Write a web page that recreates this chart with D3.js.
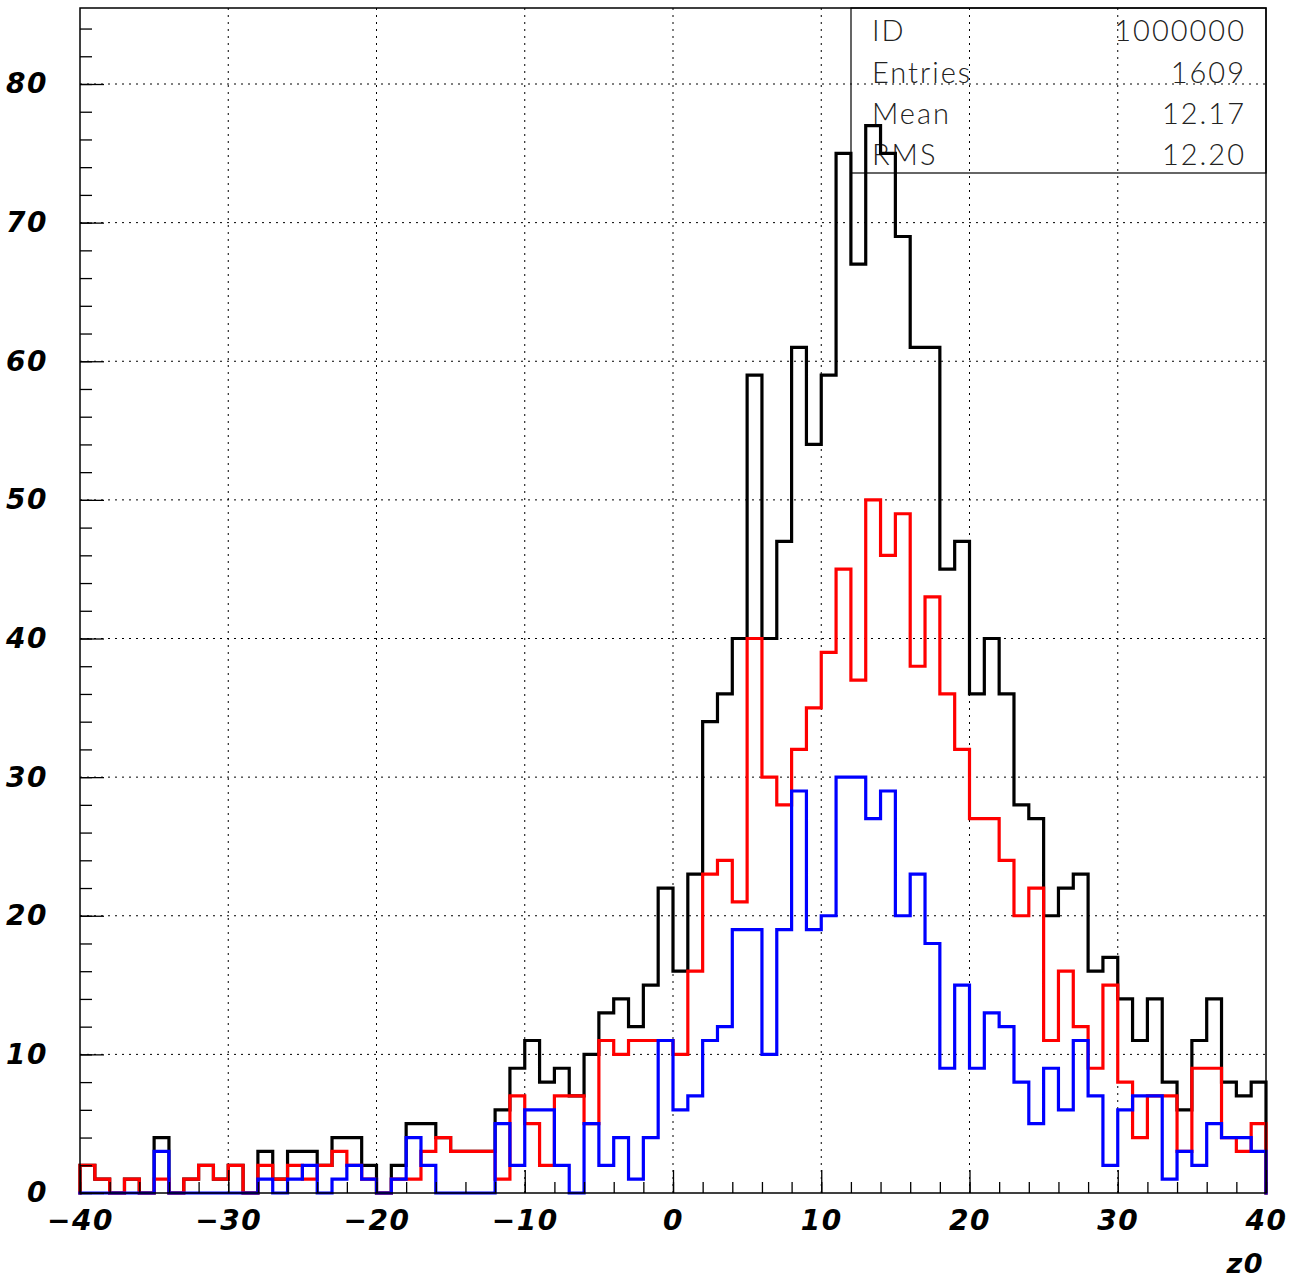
<!DOCTYPE html>
<html>
<head>
<meta charset="utf-8">
<script src="https://cdn.jsdelivr.net/npm/d3@7"></script>
<style>
  html, body { margin: 0; padding: 0; background: #fff; }
  svg { display: block; }
</style>
</head>
<body>
<script>
// ---- Data (80 bins of width 1 from -40 to 40) ----
const binEdges = d3.range(-40, 41, 1);
const totalCounts = [2,1,0,1,0,4,0,1,2,1,2,0,3,1,3,3,2,4,4,2,
  0,2,5,5,4,3,3,3,6,9,11,8,9,7,10,13,14,12,15,22,
  16,23,34,36,40,59,40,47,61,54,59,75,67,77,75,69,61,61,45,47,
  36,40,36,28,27,20,22,23,16,17,14,11,14,8,6,11,14,8,7,8];
const redCounts = [2,1,0,1,0,1,0,1,2,1,2,0,2,1,2,1,2,3,2,1,
  0,1,1,3,4,3,3,3,1,7,5,2,7,7,5,11,10,11,11,11,
  10,16,23,24,21,40,30,28,32,35,39,45,37,50,46,49,38,43,36,32,
  27,27,24,20,22,11,16,12,9,15,8,4,7,7,3,9,9,4,3,5];
const blueCounts = [0,0,0,0,0,3,0,0,0,0,0,0,1,0,1,2,0,1,2,1,
  0,1,4,2,0,0,0,0,5,2,6,6,2,0,5,2,4,1,4,11,
  6,7,11,12,19,19,10,19,29,19,20,30,30,27,29,20,23,18,9,15,
  9,13,12,8,5,9,6,11,7,2,6,7,7,1,3,2,5,4,4,3];
const xMajorTicks = [-40,-30,-20,-10,0,10,20,30,40];
const yMajorTicks = [0,10,20,30,40,50,60,70,80];
const statLabels = ["ID","Entries","Mean","RMS"];
const statValues = ["1000000","1609","12.17","12.20"];
const xTitle = "z0";

// ---- Layout ----
const W = 1302, H = 1281;
const pL = 80, pR = 1266, pT = 8, pB = 1193;
const x = d3.scaleLinear().domain([-40, 40]).range([pL, pR]);
const y = d3.scaleLinear().domain([0, 80]).range([pB, 84]);

const svg = d3.select("body").append("svg").attr("width", W).attr("height", H);

// grid
const grid = svg.append("g").attr("stroke", "#000").attr("stroke-width", 1).attr("stroke-dasharray", "2,5");
grid.selectAll(".gx").data(xMajorTicks.filter(d => d > -40 && d < 40)).join("line")
  .attr("x1", d => x(d)).attr("x2", d => x(d)).attr("y1", pT).attr("y2", pB);
grid.selectAll(".gy").data(yMajorTicks.filter(d => d > 0)).join("line")
  .attr("x1", pL).attr("x2", pR).attr("y1", d => y(d)).attr("y2", d => y(d));

// stat box
const stat = svg.append("g");
const bx0 = 851, bx1 = pR, by0 = pT, by1 = 173;
stat.append("rect").attr("x", bx0).attr("y", by0).attr("width", bx1 - bx0).attr("height", by1 - by0)
  .attr("fill", "none").attr("stroke", "#000").attr("stroke-width", 1.2);
const rowH = (by1 - by0) / statLabels.length;
stat.selectAll(".lab").data(statLabels).join("text")
  .attr("x", 872).attr("y", (d, i) => by0 + rowH * (i + 1) - 8)
  .attr("font-family", "Lato, 'Open Sans', sans-serif").attr("font-weight", 300)
  .attr("font-size", 29).attr("letter-spacing", 2).attr("fill", "#222").text(d => d);
stat.selectAll(".val").data(statValues).join("text")
  .attr("x", 1246).attr("y", (d, i) => by0 + rowH * (i + 1) - 8)
  .attr("text-anchor", "end")
  .attr("font-family", "Lato, 'Open Sans', sans-serif").attr("font-weight", 300)
  .attr("font-size", 29).attr("letter-spacing", 2).attr("fill", "#222").text(d => d);

// histograms
function stepPath(counts) {
  const p = d3.path();
  p.moveTo(x(binEdges[0]), y(0));
  counts.forEach((c, i) => {
    p.lineTo(x(binEdges[i]), y(c));
    p.lineTo(x(binEdges[i + 1]), y(c));
  });
  p.lineTo(x(binEdges[binEdges.length - 1]), y(0));
  return p.toString();
}
const series = [
  {name: "all", counts: totalCounts, color: "#000000"},
  {name: "red", counts: redCounts, color: "#ff0000"},
  {name: "blue", counts: blueCounts, color: "#0000ff"}
];
svg.append("g").selectAll("path").data(series).join("path")
  .attr("d", d => stepPath(d.counts))
  .attr("fill", "none").attr("stroke", d => d.color)
  .attr("stroke-width", 3.2).attr("stroke-linejoin", "miter").attr("stroke-linecap", "square");

// axes
const fmt = d => d3.format("d")(d);
const xMinor = d3.range(-40, 41, 2);
const yMinor = d3.range(0, 86, 2);

const xAxisMinor = d3.axisBottom(x).tickValues(xMinor).tickSizeInner(-11).tickSizeOuter(0).tickFormat("");
const xAxis = d3.axisBottom(x).tickValues(xMajorTicks).tickSizeInner(-23).tickSizeOuter(0).tickPadding(17).tickFormat(fmt);
const yAxisMinor = d3.axisLeft(y).tickValues(yMinor).tickSizeInner(-12).tickSizeOuter(0).tickFormat("");
const yAxis = d3.axisLeft(y).tickValues(yMajorTicks).tickSizeInner(-24).tickSizeOuter(0).tickPadding(32).tickFormat(fmt);

function styleAxis(g) {
  g.select(".domain").remove();
  g.selectAll("line").attr("stroke", "#000").attr("stroke-width", 1.3);
  g.selectAll("text").attr("fill", "#000").attr("font-size", 28).attr("letter-spacing", 1.5)
    .attr("font-family", "DejaVu Sans").attr("font-weight", "bold").attr("font-style", "italic");
}
svg.append("g").attr("transform", `translate(0,${pB})`).call(xAxisMinor).call(styleAxis);
svg.append("g").attr("transform", `translate(0,${pB})`).call(xAxis).call(styleAxis);
svg.append("g").attr("transform", `translate(${pL},0)`).call(yAxisMinor).call(styleAxis);
svg.append("g").attr("transform", `translate(${pL},0)`).call(yAxis).call(styleAxis);

// frame
svg.append("rect").attr("x", pL).attr("y", pT).attr("width", pR - pL).attr("height", pB - pT)
  .attr("fill", "none").attr("stroke", "#000").attr("stroke-width", 1.5);

// x title
svg.append("text").attr("x", 1264).attr("y", 1273).attr("text-anchor", "end")
  .attr("font-family", "DejaVu Sans").attr("font-weight", "bold").attr("font-style", "italic")
  .attr("font-size", 27).attr("letter-spacing", 1.5).text(xTitle);
</script>
</body>
</html>
